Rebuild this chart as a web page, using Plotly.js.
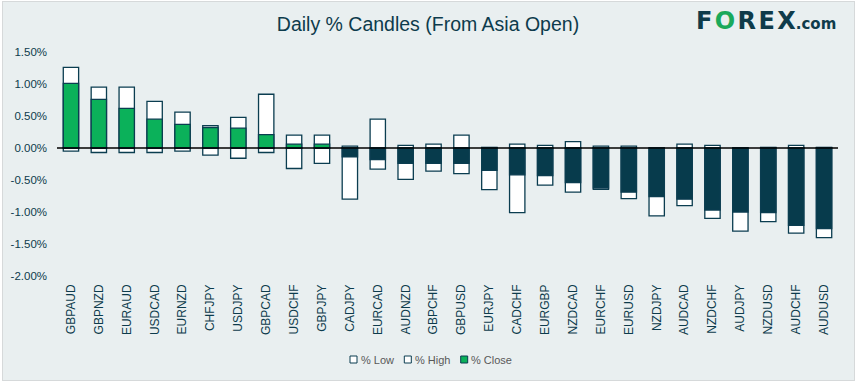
<!DOCTYPE html>
<html>
<head>
<meta charset="utf-8">
<script src="https://cdn.plot.ly/plotly-3.0.1.min.js"></script>
<style>
  html, body { margin: 0; padding: 0; background: #ffffff; width: 859px; height: 385px; overflow: hidden; }
  #wrap { position: absolute; left: 2px; top: 1px; width: 851px; height: 378px; border: 1px solid #d6d9da; background: #e9eff0; }
  #chart { width: 851px; height: 378px; }
</style>
</head>
<body>
<div id="wrap"><div id="chart"></div></div>
<script>
// ---- Data (values in percent) ----
const categories = ['GBPAUD','GBPNZD','EURAUD','USDCAD','EURNZD','CHFJPY','USDJPY','GBPCAD','USDCHF','GBPJPY','CADJPY','EURCAD','AUDNZD','GBPCHF','GBPUSD','EURJPY','CADCHF','EURGBP','NZDCAD','EURCHF','EURUSD','NZDJPY','AUDCAD','NZDCHF','AUDJPY','NZDUSD','AUDCHF','AUDUSD'];
const pctHigh  = [1.26, 0.95, 0.95, 0.73, 0.56, 0.35, 0.48, 0.84, 0.20, 0.20, 0.03, 0.45, 0.04, 0.06, 0.20, 0.01, 0.06, 0.04, 0.10, 0.03, 0.03, 0.00, 0.06, 0.04, 0.00, 0.01, 0.04, 0.01];
const pctClose = [1.01, 0.76, 0.62, 0.45, 0.37, 0.32, 0.31, 0.21, 0.06, 0.06, -0.14, -0.18, -0.24, -0.24, -0.24, -0.35, -0.42, -0.43, -0.54, -0.625, -0.69, -0.76, -0.80, -0.97, -1.00, -1.01, -1.21, -1.26];
const pctLow   = [-0.05, -0.07, -0.07, -0.07, -0.05, -0.11, -0.16, -0.07, -0.32, -0.24, -0.80, -0.33, -0.49, -0.36, -0.40, -0.65, -1.01, -0.58, -0.69, -0.645, -0.79, -1.06, -0.90, -1.10, -1.30, -1.15, -1.33, -1.40];
const seriesNames = ['% Low', '% High', '% Close'];
const yTickVals = [1.5, 1.0, 0.5, 0.0, -0.5, -1.0, -1.5, -2.0];
const yTickText = ['1.50%', '1.00%', '0.50%', '0.00%', '-0.50%', '-1.00%', '-1.50%', '-2.00%'];

// ---- Styles ----
const NAVY = '#073b4c';
const GREEN = '#0bb15a';
const OUTLINE = '#0b3d50';
const TEXT = '#0d3b4c';
const FONT = 'Liberation Sans, Arial, sans-serif';
const BAR_W = 0.55;

const W = 851, H = 378;
const M = { l: 54, r: 16, t: 50, b: 104 };
const PW = W - M.l - M.r, PH = H - M.t - M.b;
// convert pixel positions (in the chart div) to paper fractions
const px = x => (x - M.l) / PW;
const py = y => (H - M.b - y) / PH;

const closeColors = pctClose.map(v => v >= 0 ? GREEN : NAVY);
const seriesFills = ['#ffffff', '#ffffff', GREEN];

const traces = [
  { type: 'bar', name: seriesNames[0], x: categories, y: pctLow, width: BAR_W,
    marker: { color: seriesFills[0], line: { color: OUTLINE, width: 1.3 } } },
  { type: 'bar', name: seriesNames[1], x: categories, y: pctHigh, width: BAR_W,
    marker: { color: seriesFills[1], line: { color: OUTLINE, width: 1.3 } } },
  { type: 'bar', name: seriesNames[2], x: categories, y: pctClose, width: BAR_W,
    marker: { color: closeColors, line: { color: OUTLINE, width: 1.3 } } }
];

// legend (drawn as key boxes + labels, Excel-style compact spacing)
const legendBoxX = [347, 401.3, 457.7];
const legendTextX = [355.5, 409.5, 466];
const legendY = 357.5;
const shapes = [
  { type: 'line', xref: 'paper', x0: 0, x1: 1, yref: 'y', y0: 0, y1: 0,
    line: { color: '#000000', width: 1.5 }, layer: 'above' }
];
const annotations = [
  { xref: 'paper', yref: 'paper', x: 1.0, xanchor: 'right', y: py(19), yanchor: 'middle',
    showarrow: false,
    text: "<b>F\u200AF</b>".replace('F\u200AF', "F\u200A<span style='color:#1aa95b'>O</span>\u200AR\u200AE\u200AX") + "<b><span style='font-size:15px'>.com</span></b>",
    font: { family: 'DejaVu Sans, sans-serif', size: 24, color: '#0f3b4a' } }
];
seriesNames.forEach((name, i) => {
  shapes.push({ type: 'rect', xref: 'paper', yref: 'paper',
    x0: px(legendBoxX[i]), x1: px(legendBoxX[i] + 7),
    y0: py(legendY - 3.5), y1: py(legendY + 3.5),
    fillcolor: seriesFills[i], line: { color: OUTLINE, width: 1 } });
  annotations.push({ xref: 'paper', yref: 'paper', x: px(legendTextX[i]), xanchor: 'left',
    y: py(legendY), yanchor: 'middle', showarrow: false, text: name,
    font: { family: FONT, size: 11, color: '#595959' } });
});

const layout = {
  width: W, height: H,
  margin: { l: M.l, r: M.r, t: M.t, b: M.b, pad: 0, autoexpand: false },
  paper_bgcolor: '#e9eff0',
  plot_bgcolor: '#e9eff0',
  barmode: 'overlay',
  font: { family: FONT, color: TEXT, size: 12 },
  title: {
    text: 'Daily % Candles (From Asia Open)',
    font: { family: FONT, size: 19.5, color: TEXT },
    xref: 'container', x: 0.4994, xanchor: 'center',
    yref: 'container', y: 1 - 22 / H, yanchor: 'middle'
  },
  xaxis: {
    type: 'category',
    tickangle: -90,
    tickfont: { family: FONT, size: 12, color: TEXT },
    showgrid: false, zeroline: false, showline: false,
    ticks: '', ticklabelstandoff: 5,
    fixedrange: true
  },
  yaxis: {
    range: [-2.0, 1.5],
    tickvals: yTickVals, ticktext: yTickText,
    tickfont: { family: FONT, size: 11.5, color: TEXT },
    showgrid: false, zeroline: false, showline: false,
    ticks: '', ticklabelstandoff: 9,
    fixedrange: true
  },
  shapes: shapes,
  annotations: annotations,
  showlegend: false
};

Plotly.newPlot('chart', traces, layout, { displayModeBar: false, staticPlot: true });
</script>
</body>
</html>
